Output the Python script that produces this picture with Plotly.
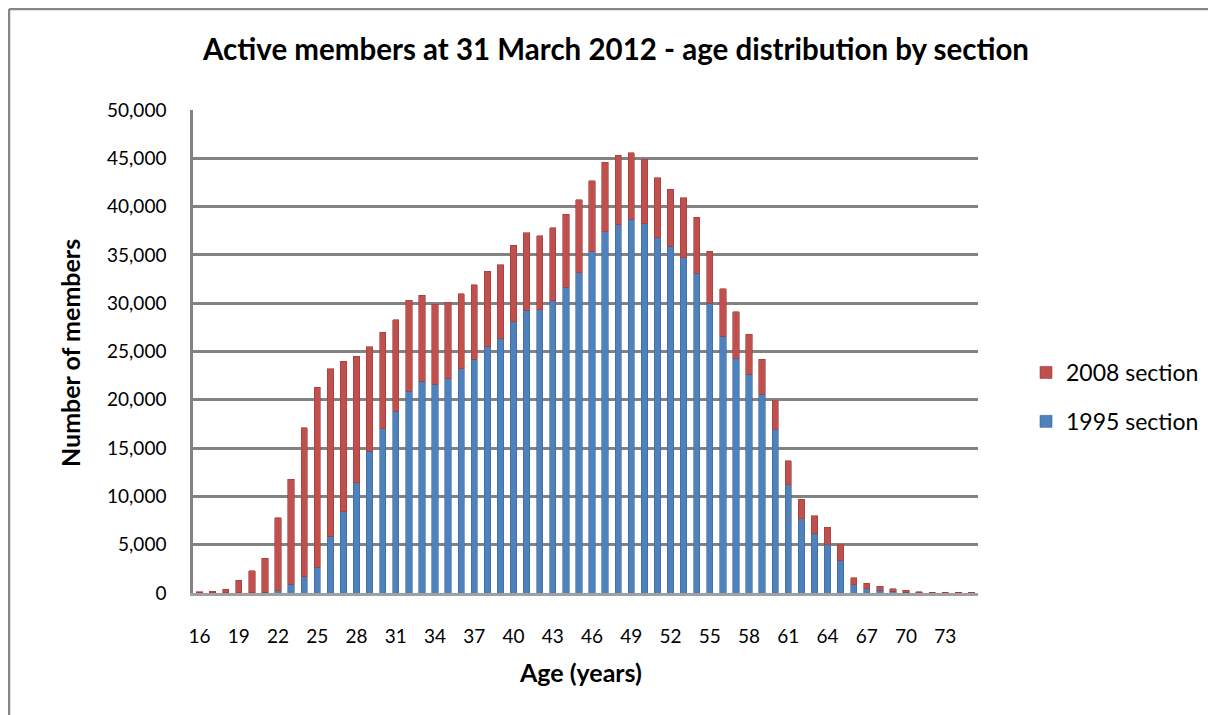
import plotly.graph_objects as go

ages = list(range(16, 76))

section_1995 = [10, 10, 20, 30, 50, 100, 250, 900, 1700, 2650,
                5900, 8400, 11400, 14700, 17000, 18800, 20900, 21900, 21600, 22200,
                23200, 24200, 25500, 26300, 28100, 29250, 29300, 30250, 31650, 33150,
                35350, 37400, 38100, 38700, 38200, 36800, 35900, 34700, 33100, 30000,
                26600, 24300, 22650, 20600, 16900, 11200, 7700, 6200, 5000, 3350,
                860, 450, 280, 170, 100, 30, 20, 15, 10, 10]

section_2008 = [140, 190, 380, 1270, 2250, 3500, 7550, 10900, 15400, 18650,
                17300, 15600, 13100, 10800, 10000, 9500, 9400, 8900, 8300, 7900,
                7800, 7700, 7800, 7700, 7900, 8050, 7700, 7550, 7550, 7550,
                7350, 7200, 7200, 6900, 6700, 6200, 5900, 6200, 5800, 5400,
                4900, 4800, 4150, 3600, 3000, 2500, 2000, 1800, 1800, 1650,
                740, 550, 420, 280, 180, 90, 70, 55, 50, 40]

tick_ages = list(range(16, 76, 3))
y_ticks = list(range(0, 50001, 5000))
y_labels = [f"{v:,}" for v in y_ticks]

FONT = "Lato"
BLUE = "#4F81BD"
RED = "#C0504D"
GRID = "#828282"

# page offset (body margin) -> figure coordinates
OFF = 8
W, H = 1216 - OFF, 715 - OFF
# plot area in page pixels
PL, PR, PT, PB = 193, 978, 110, 593
L, R, T, B = PL - OFF, PR - OFF, PT - OFF, PB - OFF
pw, ph = R - L, B - T

def px(x):
    return (x - OFF - L) / pw

def py(y):
    return (B - (y - OFF)) / ph

fig = go.Figure()
fig.add_trace(go.Bar(x=ages, y=section_1995, name="1995 section",
                     marker=dict(color=BLUE, line=dict(color="#3A659A", width=0.6)),
                     legendgroup="g1995", legendrank=2))
fig.add_trace(go.Bar(x=ages, y=section_2008, name="2008 section",
                     marker=dict(color=RED, line=dict(color="#9E3B38", width=0.6)),
                     legendgroup="g2008", legendrank=1))

fig.update_layout(
    width=W, height=H,
    margin=dict(l=L, r=W - R, t=T, b=H - B, pad=0),
    paper_bgcolor="white", plot_bgcolor="white",
    barmode="stack", bargap=0.52,
    font=dict(family=FONT, size=19, color="#000000"),
    title=dict(text="<b>Active members at 31 March 2012 - age distribution by section</b>",
               x=(616 - OFF) / W, xref="container", xanchor="center",
               y=1 - (50 - OFF) / H, yref="container", yanchor="middle",
               font=dict(family=FONT, size=29.5, color="#000000")),
    xaxis=dict(range=[15.5, 75.5], tickmode="array", tickvals=tick_ages,
               ticktext=[str(a) for a in tick_ages], showgrid=False,
               showline=True, linecolor="#A0A0A0", linewidth=3,
               ticks="", ticklabelstandoff=24, tickfont=dict(size=19),
               zeroline=False),
    yaxis=dict(range=[0, 50000], tickmode="array", tickvals=y_ticks, ticktext=y_labels,
               showgrid=True, gridcolor=GRID, gridwidth=2.5,
               showline=True, linecolor=GRID, linewidth=2.5,
               ticks="", ticklabelstandoff=20, tickfont=dict(size=19),
               zeroline=False),
    legend=dict(x=px(1026), xanchor="left", y=py(397), yanchor="middle",
                traceorder="grouped", tracegroupgap=16,
                font=dict(family=FONT, size=23), bgcolor="rgba(0,0,0,0)"),
    annotations=[
        dict(text="<b>Number of members</b>", xref="paper", yref="paper",
             x=px(70), y=py(353), textangle=-90, showarrow=False,
             xanchor="center", yanchor="middle", font=dict(family=FONT, size=25)),
        dict(text="<b>Age (years)</b>", xref="paper", yref="paper",
             x=px(580), y=py(672), showarrow=False,
             xanchor="center", yanchor="middle", font=dict(family=FONT, size=25)),
    ],
    shapes=[
        dict(type="line", xref="paper", yref="paper", x0=px(9), x1=px(1260),
             y0=py(9), y1=py(9), line=dict(color="#868686", width=2.5)),
        dict(type="line", xref="paper", yref="paper", x0=px(9), x1=px(9),
             y0=py(9), y1=py(760), line=dict(color="#868686", width=2.5)),
    ],
)

fig.write_html("out.html")
